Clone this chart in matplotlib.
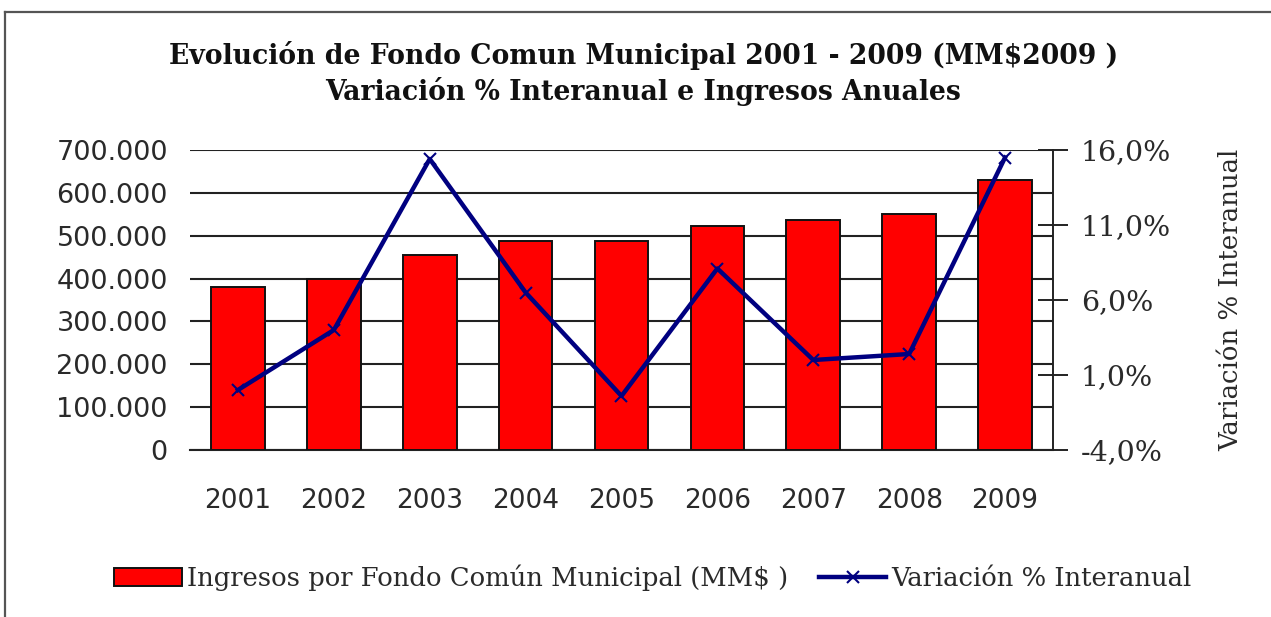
import matplotlib
matplotlib.use("Agg")
import matplotlib.pyplot as plt
from matplotlib.ticker import FuncFormatter, FixedLocator
from matplotlib.lines import Line2D

years = ["2001", "2002", "2003", "2004", "2005", "2006", "2007", "2008", "2009"]
ingresos = [381000, 400000, 456000, 488000, 488000, 523000, 537000, 550000, 630000]
variacion = [0.0, 4.0, 15.4, 6.5, -0.4, 8.1, 2.0, 2.4, 15.5]

title_lines = ["Evolución de Fondo Comun Municipal 2001 - 2009 (MM$2009 )",
               "Variación % Interanual e Ingresos Anuales"]
bar_label = "Ingresos por Fondo Común Municipal (MM$ )"
line_label = "Variación % Interanual"

fig = plt.figure(figsize=(12.71, 6.17), dpi=100)
ax = fig.add_axes([190/1271, 1-450/617, (1053-190)/1271, 300/617])
ax2 = ax.twinx()

x = list(range(len(years)))
bars = ax.bar(x, ingresos, width=0.56, color="#ff0000", edgecolor="#111111",
              linewidth=1.4, zorder=3, label=bar_label)
ax.set_xlim(-0.5, len(years) - 0.5)
ax.set_ylim(0, 700000)
ax.yaxis.set_major_locator(FixedLocator([i * 100000 for i in range(8)]))
ax.yaxis.set_major_formatter(FuncFormatter(
    lambda v, p: "0" if v == 0 else f"{int(v):,}".replace(",", ".")))
ax.grid(axis="y", color="#222222", linewidth=1.5, zorder=0)
ax.set_axisbelow(True)
ax.set_xticks(x)
ax.set_xticklabels(years, fontfamily="DejaVu Sans", fontsize=19, color="#2a2a2a")
ax.tick_params(axis="x", length=0, pad=27)
ax.tick_params(axis="y", length=0, pad=16, labelsize=19.5, labelcolor="#2a2a2a")
for lab in ax.get_yticklabels():
    lab.set_fontfamily("DejaVu Sans")
for s in ["top", "left", "right"]:
    ax.spines[s].set_visible(False)
ax.spines["bottom"].set_color("#222222")
ax.spines["bottom"].set_linewidth(1.5)

line, = ax2.plot(x, variacion, color="#000080", linewidth=3.2, marker="x",
                 markersize=9, markeredgewidth=1.5, zorder=5, label=line_label)
ax2.set_ylim(-4, 16)
ax2.yaxis.set_major_locator(FixedLocator([-4, 1, 6, 11, 16]))
ax2.yaxis.set_major_formatter(FuncFormatter(lambda v, p: f"{v:.1f}%".replace(".", ",")))
ax2.tick_params(axis="y", direction="inout", length=22, width=1.4, color="#222222",
                pad=9, labelsize=20.5, labelcolor="#2a2a2a")
for lab in ax2.get_yticklabels():
    lab.set_fontfamily("DejaVu Serif")
for s in ["top", "left", "bottom"]:
    ax2.spines[s].set_visible(False)
ax2.spines["right"].set_color("#222222")
ax2.spines["right"].set_linewidth(1.4)
ax2.set_ylabel(line_label, fontfamily="DejaVu Serif", fontsize=18.7, color="#2a2a2a",
               labelpad=34)

fig.text(0.5 + 8/1271, 1 - 55/617, title_lines[0], ha="center", va="center",
         fontfamily="DejaVu Serif", fontweight="bold", fontsize=19.2, color="#111111")
fig.text(0.5 + 8/1271, 1 - 92/617, title_lines[1], ha="center", va="center",
         fontfamily="DejaVu Serif", fontweight="bold", fontsize=19.2, color="#111111")

leg = fig.legend(handles=[bars, line], labels=[bar_label, line_label],
                 loc="center", bbox_to_anchor=(653/1271, 1 - 578/617), ncol=2,
                 frameon=False, handlelength=2.6, handleheight=0.7,
                 handletextpad=0.2, columnspacing=1.2,
                 prop={"family": "DejaVu Serif", "size": 18.6})
for t in leg.get_texts():
    t.set_color("#2a2a2a")

fig.add_artist(Line2D([5/1271, 1], [1 - 12/617, 1 - 12/617], transform=fig.transFigure,
                      color="#555555", linewidth=1.6))
fig.add_artist(Line2D([5/1271, 5/1271], [0, 1 - 12/617], transform=fig.transFigure,
                      color="#555555", linewidth=1.6))

fig.savefig("out.png", dpi=100)
